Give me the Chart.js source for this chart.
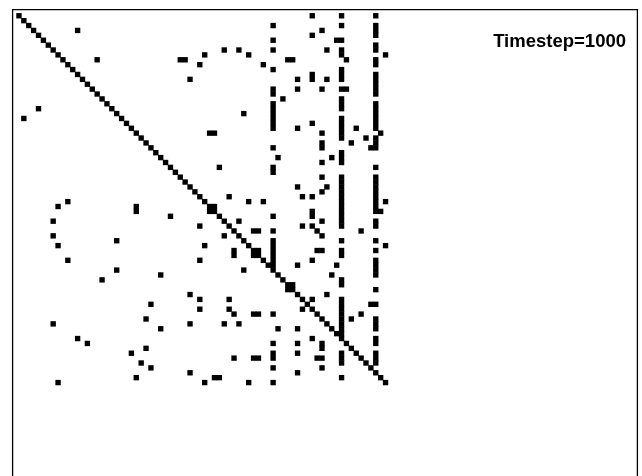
<!DOCTYPE html>
<html><head><meta charset="utf-8">
<script src="https://cdn.jsdelivr.net/npm/chart.js@4/dist/chart.umd.min.js"></script>
<style>html,body{margin:0;padding:0;background:#fff;overflow:hidden}#wrap{width:642px;height:490px}</style>
</head><body><div id="wrap"><canvas id="c" width="642" height="490"></canvas></div>
<script>
// matrix size 76 x 76 (indices 0..75)
const diagIdx = [0,1,2,3,4,5,6,7,8,9,10,11,12,13,14,15,16,17,18,19,20,21,22,23,24,25,26,27,28,29,30,31,32,33,34,35,36,37,38,39,40,41,42,43,44,45,46,47,48,49,50,51,52,53,54,55,56,57,58,59,60,61,62,63,64,65,66,67,68,69,70,71,72,73,74,75];
// dense columns and the rows they fill
const colA = 52;
const colARows = [2,5,7,11,15,16,18,19,20,21,22,23,27,31,32,41,44,46,47,48,49,50,51,61,67,69,70,72,75];
const colB = 66;
const colBRows = [0,2,5,7,8,11,12,13,15,17,18,19,21,22,23,24,25,28,29,30,33,34,35,36,37,38,39,40,41,42,43,46,48,49,54,55,58,59,60,61,62,63,64,65,69,70,71,74];
const colC = 73;
const colCRows = [0,2,3,4,6,7,9,10,12,13,14,15,16,18,19,20,21,22,23,25,26,27,31,33,34,35,36,37,38,39,40,42,43,46,48,50,51,52,53,56,59,62,63,64,66,67,69,70,71];
// scattered entries (column, row)
const scatterCols = [12,16,33,34,37,35,4,1,10,8,24,24,31,7,37,7,20,8,10,37,20,29,17,35,37,27,37,26,7,35,29,12,14,26,23,25,27,35,24,8,
  60,62,60,65,42,45,63,38,47,75,55,56,67,50,60,60,57,63,57,62,67,54,46,60,57,69,39,40,62,74,71,62,68,62,72,53,64,62,41,62,57,63,62,58,60,43,50,47,75,74,
  39,40,60,60,45,62,58,60,61,48,49,70,42,62,75,38,44,44,49,48,61,62,60,57,65,64,46,55,56,63,72,43,43,44,48,49,58,60,68,70,42,45,53,57,60,62,62,57,57,44,48,49,61,62,62,57,38,40,41,47];
const scatterRows = [3,9,9,9,10,13,19,21,38,39,39,40,41,42,43,45,46,47,50,50,52,53,54,57,58,59,60,62,63,63,64,66,67,68,69,71,72,73,74,75,
  0,3,4,5,7,7,7,8,8,8,9,9,9,10,12,13,13,13,15,15,15,17,20,22,23,23,24,24,24,24,25,26,26,27,27,29,29,30,31,33,35,35,36,37,37,37,38,38,38,40,
  40,39,40,41,42,42,43,43,44,44,44,44,45,45,47,47,48,49,48,49,48,48,50,51,51,53,52,56,55,57,59,58,60,61,61,61,60,58,62,61,63,63,64,64,66,67,68,67,69,70,70,70,70,70,72,73,75,74,74,75];

const pts = (xs, ys) => xs.map((x, i) => ({x: x, y: ys[i]}));
const colPts = (c, rows) => rows.map(r => ({x: c, y: r}));

const frame = {
  id: 'frame',
  afterDraw(chart) {
    const {ctx, chartArea: a} = chart;
    ctx.save();
    ctx.strokeStyle = '#000';
    ctx.lineWidth = 1.3;
    ctx.beginPath();
    ctx.moveTo(a.left + 0.6, a.bottom + 5);
    ctx.lineTo(a.left + 0.6, a.top + 0.6);
    ctx.lineTo(a.right - 0.6, a.top + 0.6);
    ctx.lineTo(a.right - 0.6, a.bottom + 5);
    ctx.stroke();
    ctx.fillStyle = '#000';
    ctx.font = 'bold 18.5px "Liberation Sans", Arial, sans-serif';
    ctx.textAlign = 'right';
    ctx.textBaseline = 'alphabetic';
    ctx.fillText('Timestep=1000', a.right - 12, a.top + 37.5);
    ctx.restore();
  }
};

const common = {pointStyle: 'rect', pointRadius: 3.8, pointBorderWidth: 0, pointBackgroundColor: '#000', showLine: false};
new Chart(document.getElementById('c'), {
  type: 'scatter',
  data: {datasets: [
    Object.assign({label: 'diagonal', data: pts(diagIdx, diagIdx)}, common),
    Object.assign({label: 'colA', data: colPts(colA, colARows)}, common),
    Object.assign({label: 'colB', data: colPts(colB, colBRows)}, common),
    Object.assign({label: 'colC', data: colPts(colC, colCRows)}, common),
    Object.assign({label: 'entries', data: pts(scatterCols, scatterRows)}, common)
  ]},
  options: {
    responsive: false, animation: false,
    layout: {padding: {left: 12, top: 9, right: 1, bottom: 2}},
    scales: {
      x: {display: false, min: -1.425, max: 126.65},
      y: {display: false, reverse: true, min: -1.385, max: 96.15}
    },
    plugins: {legend: {display: false}, tooltip: {enabled: false}}
  },
  plugins: [frame]
});
</script></body></html>
